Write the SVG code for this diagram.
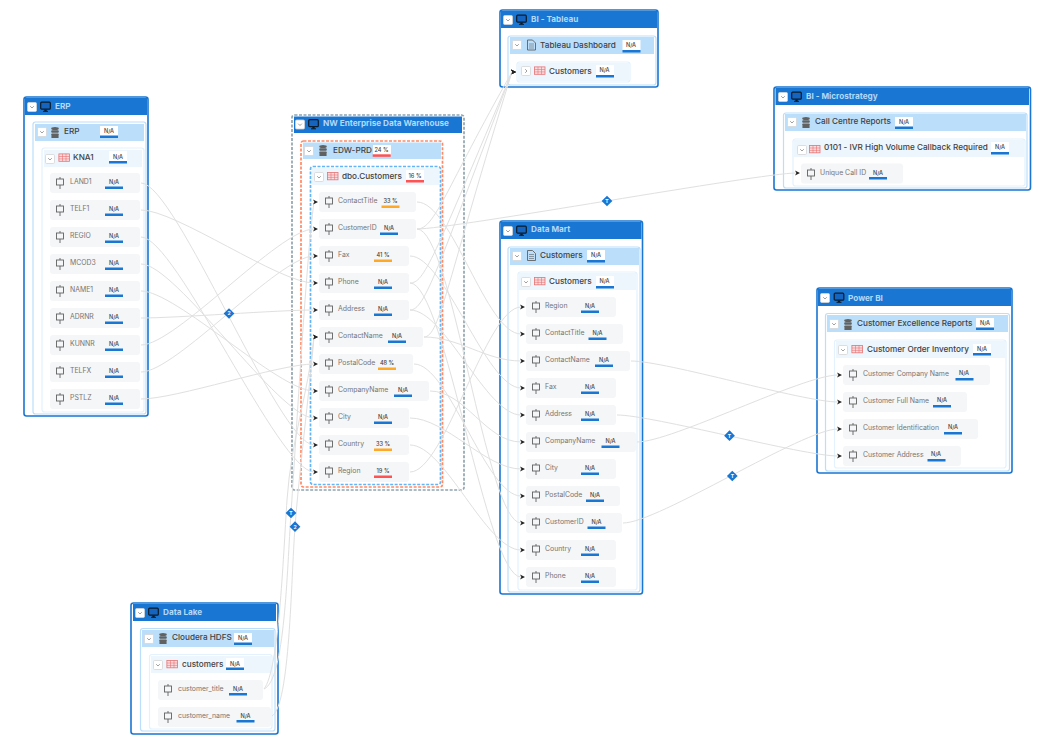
<svg xmlns="http://www.w3.org/2000/svg" width="1048" height="749" viewBox="0 0 1048 749">
<style>
text{font-family:"Inter","Open Sans","Liberation Sans",sans-serif}
.bg{fill:#fff}
.o{fill:#fff;stroke:#1976d2;stroke-width:1.6}
.o2{fill:#fff;stroke:#bbdefb;stroke-width:1.2}
.o3{fill:#fff;stroke:#e3f2fd;stroke-width:1.2}
.dg{fill:#fff;stroke:#90a4ae;stroke-width:1.7;stroke-dasharray:3 1.5}
.dr{fill:#fff;stroke:#ff8a65;stroke-width:1.7;stroke-dasharray:3 1.5}
.db{fill:#fff;stroke:#64b5f6;stroke-width:1.7;stroke-dasharray:3 1.5}
.h1{fill:#1976d2}.h2{fill:#bbdefb}.h3{fill:#edf5fd}
.r{fill:#f5f6f7}
.t1{font-size:8.2px;font-weight:700;fill:#b3d9f9}
.t2{font-size:8.2px;font-weight:500;fill:#424242}
.l{font-size:6.9px;fill:#757575}
.n{font-size:5.6px;font-weight:500;fill:#424242;text-anchor:middle}
.bl{fill:#1976d2}.br{fill:#ff5252}.bo{fill:#ffa726}
.w{fill:#fff}
.c path{fill:none;stroke:#e0e0e0;stroke-width:1;marker-end:url(#a)}
.d rect{fill:#1976d2}
.d text{font-size:5px;font-weight:700;fill:#fff;text-anchor:middle}
</style>
<defs>
<marker id="a" markerUnits="userSpaceOnUse" markerWidth="7" markerHeight="6" refX="1" refY="3" orient="0"><path d="M0 .4L5 3L0 5.6L1.4 3Z" fill="#212121"/></marker>
<g id="t"><rect x=".5" y=".5" width="9" height="9" rx="1.2" fill="#fff" stroke="#d5d5d5" stroke-width=".8"/><path d="M3.2 4.2L5 6L6.8 4.2" fill="none" stroke="#757575" stroke-width=".7"/></g>
<g id="tc"><rect x=".5" y=".5" width="9" height="9" rx="1.2" fill="#fff" stroke="#d5d5d5" stroke-width=".8"/><path d="M4.2 3.2L6 5L4.2 6.8" fill="none" stroke="#757575" stroke-width=".7"/></g>
<g id="m"><rect x=".7" y=".7" width="9.6" height="7" rx="1" fill="#1565c0" stroke="#0a1a2a" stroke-width="1.2"/><rect x="4.3" y="8" width="2.4" height="1.6" fill="#0a1a2a"/><rect x="3" y="9.3" width="5" height="1" fill="#0a1a2a"/></g>
<g id="s" fill="#616161"><ellipse cx="4" cy="1.6" rx="3.8" ry="1.5"/><rect x=".2" y="3.2" width="7.6" height="2.6" rx="1"/><rect x=".2" y="6.4" width="7.6" height="2.6" rx="1"/><rect x=".2" y="9" width="7.6" height="2" rx="1"/></g>
<g id="f" fill="none" stroke="#616161" stroke-width=".9"><path d="M.5.5H5.5L8.5 3.5V10.5H.5Z"/><path d="M2 4.5H7M2 6.5H7M2 8.5H7" stroke-width=".6"/></g>
<g id="g"><rect x=".4" y=".4" width="10.6" height="7.4" fill="#fbdde0" stroke="#e57373" stroke-width=".8"/><path d="M.4 3H11M.4 5.4H11M4 .4V7.8M7.5.4V7.8" stroke="#e57373" stroke-width=".6" fill="none"/></g>
<g id="c" fill="none" stroke="#616161" stroke-width=".9"><rect x="-3.5" y="-3" width="7" height="6"/><path d="M0-5V-3M0 3V7"/></g>
</defs>
<rect class="bg" width="1048" height="749"/>

<g id="erp">
<rect class="o" x="24" y="97" width="124" height="319" rx="2.5"/><rect class="h1" x="25" y="98" width="122" height="17"/>
<use href="#t" x="27" y="102"/><use href="#m" x="40" y="101.5"/><text class="t1" x="55" y="108.500">ERP</text>
<g id="erp-db"><rect class="o2" x="33" y="122" width="113" height="292" rx="2.5"/><rect class="h2" x="35" y="124" width="109" height="17"/>
<use href="#t" x="37" y="127"/><use href="#s" x="51" y="127"/><text class="t2" x="64" y="134">ERP</text><rect class="w" x="100" y="126" width="18" height="10"/><text class="n" x="109" y="133">N/A</text><rect class="bl" x="100" y="135.500" width="18" height="2.500"/></g>
<g id="erp-knai"><rect class="o3" x="42" y="148" width="102" height="264" rx="2.500"/><rect class="h3" x="44" y="150" width="98" height="17"/>
<use href="#t" x="45" y="154"/><use href="#g" x="58.500" y="153.500"/><text class="t2" x="73" y="160">KNA1</text><rect class="w" x="109" y="151" width="18" height="10"/><text class="n" x="118" y="158.500">N/A</text><rect class="bl" x="109" y="161" width="18" height="2.500"/></g>
<g id="erp-land1"><rect class="r" x="50" y="173" width="90" height="20" rx="3"/><use href="#c" x="60" y="182"/><text class="l" x="70" y="184">LAND1</text><text class="n" x="114" y="184">N/A</text><rect class="bl" x="105" y="186.500" width="18" height="2.500"/></g>
<g id="erp-telf1"><rect class="r" x="50" y="200" width="90" height="20" rx="3"/><use href="#c" x="60" y="209"/><text class="l" x="70" y="211">TELF1</text><text class="n" x="114" y="211">N/A</text><rect class="bl" x="105" y="213.500" width="18" height="2.500"/></g>
<g id="erp-regio"><rect class="r" x="50" y="227" width="90" height="20" rx="3"/><use href="#c" x="60" y="236"/><text class="l" x="70" y="238">REGIO</text><text class="n" x="114" y="238">N/A</text><rect class="bl" x="105" y="240.500" width="18" height="2.500"/></g>
<g id="erp-mcod3"><rect class="r" x="50" y="254" width="90" height="20" rx="3"/><use href="#c" x="60" y="263"/><text class="l" x="70" y="265">MCOD3</text><text class="n" x="114" y="265">N/A</text><rect class="bl" x="105" y="267.500" width="18" height="2.500"/></g>
<g id="erp-name1"><rect class="r" x="50" y="281" width="90" height="20" rx="3"/><use href="#c" x="60" y="290"/><text class="l" x="70" y="292">NAME1</text><text class="n" x="114" y="292">N/A</text><rect class="bl" x="105" y="294.500" width="18" height="2.500"/></g>
<g id="erp-adrnr"><rect class="r" x="50" y="308" width="90" height="20" rx="3"/><use href="#c" x="60" y="317"/><text class="l" x="70" y="319">ADRNR</text><text class="n" x="114" y="319">N/A</text><rect class="bl" x="105" y="321.500" width="18" height="2.500"/></g>
<g id="erp-kunnr"><rect class="r" x="50" y="335" width="90" height="20" rx="3"/><use href="#c" x="60" y="344"/><text class="l" x="70" y="346">KUNNR</text><text class="n" x="114" y="346">N/A</text><rect class="bl" x="105" y="348.500" width="18" height="2.500"/></g>
<g id="erp-telfx"><rect class="r" x="50" y="362" width="90" height="20" rx="3"/><use href="#c" x="60" y="371"/><text class="l" x="70" y="373">TELFX</text><text class="n" x="114" y="373">N/A</text><rect class="bl" x="105" y="375.500" width="18" height="2.500"/></g>
<g id="erp-pstlz"><rect class="r" x="50" y="389" width="90" height="20" rx="3"/><use href="#c" x="60" y="398"/><text class="l" x="70" y="400">PSTLZ</text><text class="n" x="114" y="400">N/A</text><rect class="bl" x="105" y="402.500" width="18" height="2.500"/></g>
</g>

<g id="dw">
<rect class="dg" x="292" y="115" width="172" height="375" rx="2.500"/><rect class="h1" x="294" y="116.500" width="168" height="16.500"/>
<use href="#t" x="295" y="119.500"/><use href="#m" x="308" y="119"/><text class="t1" x="323" y="126">NW Enterprise Data Warehouse</text>
<g id="dw-db"><rect class="dr" x="301" y="141" width="141.500" height="346" rx="2.500"/><rect class="h2" x="303" y="142.500" width="138" height="16.500"/>
<use href="#t" x="304" y="146"/><use href="#s" x="319" y="145"/><text class="t2" x="333" y="153">EDW-PRD</text><rect class="w" x="373" y="145" width="18" height="10"/><text class="n" x="381.500" y="151.500">24 %</text><rect class="br" x="372.700" y="154.300" width="18" height="2.500"/></g>
<g id="dw-tbl"><rect class="db" x="310.500" y="166.500" width="130" height="318" rx="2.500"/><rect class="h3" x="312" y="168" width="127" height="17"/>
<use href="#t" x="314" y="172"/><use href="#g" x="327" y="172"/><text class="t2" x="342" y="179">dbo.Customers</text><rect class="w" x="406" y="170" width="18" height="10"/><text class="n" x="415" y="177.500">16 %</text><rect class="br" x="406" y="180" width="18" height="2.500"/></g>
<g id="dw-ct"><rect class="r" x="319" y="192" width="97" height="20" rx="3"/><use href="#c" x="329" y="201"/><text class="l" x="338" y="203">ContactTitle</text><text class="n" x="390.500" y="203">33 %</text><rect class="bo" x="381.500" y="205.500" width="18" height="2.500"/></g>
<g id="dw-cid"><rect class="r" x="319" y="219" width="97" height="20" rx="3"/><use href="#c" x="329" y="228"/><text class="l" x="338" y="230">CustomerID</text><text class="n" x="389" y="230">N/A</text><rect class="bl" x="380" y="232.500" width="18" height="2.500"/></g>
<g id="dw-fax"><rect class="r" x="319" y="246" width="90" height="20" rx="3"/><use href="#c" x="329" y="255"/><text class="l" x="338" y="257">Fax</text><text class="n" x="383" y="257">41 %</text><rect class="bo" x="374" y="259.500" width="18" height="2.500"/></g>
<g id="dw-ph"><rect class="r" x="319" y="273" width="90" height="20" rx="3"/><use href="#c" x="329" y="282"/><text class="l" x="338" y="284">Phone</text><text class="n" x="383" y="284">N/A</text><rect class="bl" x="374" y="286.500" width="18" height="2.500"/></g>
<g id="dw-ad"><rect class="r" x="319" y="300" width="90" height="20" rx="3"/><use href="#c" x="329" y="309"/><text class="l" x="338" y="311">Address</text><text class="n" x="383" y="311">N/A</text><rect class="bl" x="374" y="313.500" width="18" height="2.500"/></g>
<g id="dw-cn"><rect class="r" x="319" y="327" width="104" height="20" rx="3"/><use href="#c" x="329" y="336"/><text class="l" x="338" y="338">ContactName</text><text class="n" x="397" y="338">N/A</text><rect class="bl" x="388" y="340.500" width="18" height="2.500"/></g>
<g id="dw-pc"><rect class="r" x="319" y="354" width="94" height="20" rx="3"/><use href="#c" x="329" y="363"/><text class="l" x="338" y="365">PostalCode</text><text class="n" x="387" y="365">48 %</text><rect class="bo" x="378" y="367.500" width="18" height="2.500"/></g>
<g id="dw-co"><rect class="r" x="319" y="381" width="110" height="20" rx="3"/><use href="#c" x="329" y="390"/><text class="l" x="338" y="392">CompanyName</text><text class="n" x="403" y="392">N/A</text><rect class="bl" x="394" y="394.500" width="18" height="2.500"/></g>
<g id="dw-ci"><rect class="r" x="319" y="408" width="90" height="20" rx="3"/><use href="#c" x="329" y="417"/><text class="l" x="338" y="419">City</text><text class="n" x="383" y="419">N/A</text><rect class="bl" x="374" y="421.500" width="18" height="2.500"/></g>
<g id="dw-cy"><rect class="r" x="319" y="435" width="90" height="20" rx="3"/><use href="#c" x="329" y="444"/><text class="l" x="338" y="446">Country</text><text class="n" x="383" y="446">33 %</text><rect class="bo" x="374" y="448.500" width="18" height="2.500"/></g>
<g id="dw-re"><rect class="r" x="319" y="462" width="90" height="20" rx="3"/><use href="#c" x="329" y="471"/><text class="l" x="338" y="473">Region</text><text class="n" x="383" y="473">19 %</text><rect class="br" x="374" y="475.500" width="18" height="2.500"/></g>
</g>

<g id="tableau">
<rect class="o" x="500" y="10" width="158" height="77" rx="2.500"/><rect class="h1" x="501" y="11" width="156" height="17"/>
<use href="#t" x="503" y="15"/><use href="#m" x="516" y="14.500"/><text class="t1" x="531" y="22">BI - Tableau</text>
<g id="tb-dash"><rect class="o2" x="508" y="36" width="148" height="49" rx="2.500"/><rect class="h2" x="510" y="37" width="144" height="17"/>
<use href="#t" x="512" y="40"/><use href="#f" x="527" y="39.500"/><text class="t2" x="540" y="48">Tableau Dashboard</text><rect class="w" x="622.500" y="40" width="18" height="10"/><text class="n" x="631" y="47">N/A</text><rect class="bl" x="622.500" y="50" width="18" height="2.500"/></g>
<g id="tb-cust"><rect class="o3" x="517" y="62" width="113" height="20" rx="2.500"/><rect class="h3" x="518" y="63" width="111" height="18"/>
<use href="#tc" x="521" y="66"/><use href="#g" x="534" y="66.500"/><text class="t2" x="549" y="74">Customers</text><rect class="w" x="596" y="65" width="18" height="10"/><text class="n" x="604.500" y="72">N/A</text><rect class="bl" x="596" y="75" width="18" height="2.500"/></g>
</g>

<g id="micro">
<rect class="o" x="774" y="87" width="256.500" height="103" rx="2.500"/><rect class="h1" x="775.500" y="88" width="253.500" height="17"/>
<use href="#t" x="778" y="92"/><use href="#m" x="791" y="91.500"/><text class="t1" x="806" y="99">BI - Microstrategy</text>
<g id="ms-db"><rect class="o2" x="783.500" y="113" width="243.500" height="75" rx="2.500"/><rect class="h2" x="785" y="114" width="241" height="17"/>
<use href="#t" x="787" y="117"/><use href="#s" x="802" y="117"/><text class="t2" x="815" y="124">Call Centre Reports</text><rect class="w" x="895" y="117" width="18" height="10"/><text class="n" x="904" y="123.500">N/A</text><rect class="bl" x="895" y="126.500" width="18" height="2.500"/></g>
<g id="ms-tbl"><rect class="o3" x="793" y="139" width="232" height="47" rx="2.500"/><rect class="h3" x="794" y="140" width="230" height="17"/>
<use href="#t" x="797" y="145"/><use href="#g" x="809" y="145"/><text class="t2" x="824" y="150">0101 - IVR High Volume Callback Required</text><rect class="w" x="991" y="142" width="18" height="10"/><text class="n" x="1000" y="149">N/A</text><rect class="bl" x="991" y="152" width="18" height="2.500"/></g>
<g id="ms-uid"><rect class="r" x="801" y="163.500" width="102" height="20" rx="3"/><use href="#c" x="811" y="173"/><text class="l" x="820" y="174.500">Unique Call ID</text><text class="n" x="878" y="174.500">N/A</text><rect class="bl" x="869" y="177" width="18" height="2.500"/></g>
</g>

<g id="mart">
<rect class="o" x="500" y="221" width="142.500" height="373" rx="2.500"/><rect class="h1" x="501" y="222" width="140.500" height="17"/>
<use href="#t" x="503" y="226"/><use href="#m" x="516" y="225.500"/><text class="t1" x="531" y="232">Data Mart</text>
<g id="dm-doc"><rect class="o2" x="508" y="247" width="132" height="345" rx="2.500"/><rect class="h2" x="510" y="248" width="129" height="17"/>
<use href="#t" x="512" y="251"/><use href="#f" x="527" y="250"/><text class="t2" x="540" y="258">Customers</text><rect class="w" x="587" y="250" width="18" height="10"/><text class="n" x="596" y="257">N/A</text><rect class="bl" x="587" y="260" width="18" height="2.500"/></g>
<g id="dm-tbl"><rect class="o3" x="518" y="272" width="119" height="318" rx="2.500"/><rect class="h3" x="519" y="273" width="117" height="17"/>
<use href="#t" x="521" y="277"/><use href="#g" x="534" y="277"/><text class="t2" x="549" y="284">Customers</text><rect class="w" x="596" y="276" width="18" height="10"/><text class="n" x="604.500" y="283">N/A</text><rect class="bl" x="596" y="286" width="18" height="2.500"/></g>
<g id="dm-re"><rect class="r" x="526" y="297" width="90" height="20" rx="3"/><use href="#c" x="536" y="306"/><text class="l" x="545" y="308">Region</text><text class="n" x="590" y="308">N/A</text><rect class="bl" x="581" y="310.500" width="18" height="2.500"/></g>
<g id="dm-ct"><rect class="r" x="526" y="324" width="97" height="20" rx="3"/><use href="#c" x="536" y="333"/><text class="l" x="545" y="335">ContactTitle</text><text class="n" x="597.500" y="335">N/A</text><rect class="bl" x="588.500" y="337.500" width="18" height="2.500"/></g>
<g id="dm-cn"><rect class="r" x="526" y="351" width="104" height="20" rx="3"/><use href="#c" x="536" y="360"/><text class="l" x="545" y="362">ContactName</text><text class="n" x="604" y="362">N/A</text><rect class="bl" x="595" y="364.500" width="18" height="2.500"/></g>
<g id="dm-fax"><rect class="r" x="526" y="378" width="90" height="20" rx="3"/><use href="#c" x="536" y="387"/><text class="l" x="545" y="389">Fax</text><text class="n" x="590" y="389">N/A</text><rect class="bl" x="581" y="391.500" width="18" height="2.500"/></g>
<g id="dm-ad"><rect class="r" x="526" y="405" width="90" height="20" rx="3"/><use href="#c" x="536" y="414"/><text class="l" x="545" y="416">Address</text><text class="n" x="590" y="416">N/A</text><rect class="bl" x="581" y="418.500" width="18" height="2.500"/></g>
<g id="dm-co"><rect class="r" x="526" y="432" width="110" height="20" rx="3"/><use href="#c" x="536" y="441"/><text class="l" x="545" y="443">CompanyName</text><text class="n" x="610.500" y="443">N/A</text><rect class="bl" x="601.500" y="445.500" width="18" height="2.500"/></g>
<g id="dm-ci"><rect class="r" x="526" y="459" width="90" height="20" rx="3"/><use href="#c" x="536" y="468"/><text class="l" x="545" y="470">City</text><text class="n" x="590" y="470">N/A</text><rect class="bl" x="581" y="472.500" width="18" height="2.500"/></g>
<g id="dm-pc"><rect class="r" x="526" y="486" width="94" height="20" rx="3"/><use href="#c" x="536" y="495"/><text class="l" x="545" y="497">PostalCode</text><text class="n" x="595" y="497">N/A</text><rect class="bl" x="586" y="499.500" width="18" height="2.500"/></g>
<g id="dm-cid"><rect class="r" x="526" y="513" width="96" height="20" rx="3"/><use href="#c" x="536" y="522"/><text class="l" x="545" y="524">CustomerID</text><text class="n" x="596.500" y="524">N/A</text><rect class="bl" x="587.500" y="526.500" width="18" height="2.500"/></g>
<g id="dm-cy"><rect class="r" x="526" y="540" width="90" height="20" rx="3"/><use href="#c" x="536" y="549"/><text class="l" x="545" y="551">Country</text><text class="n" x="590" y="551">N/A</text><rect class="bl" x="581" y="553.500" width="18" height="2.500"/></g>
<g id="dm-ph"><rect class="r" x="526" y="567" width="90" height="20" rx="3"/><use href="#c" x="536" y="576"/><text class="l" x="545" y="578">Phone</text><text class="n" x="590" y="578">N/A</text><rect class="bl" x="581" y="580.500" width="18" height="2.500"/></g>
</g>

<g id="power">
<rect class="o" x="817" y="288" width="195" height="185" rx="2.500"/><rect class="h1" x="818" y="289" width="193" height="17"/>
<use href="#t" x="820" y="293"/><use href="#m" x="833.500" y="292.500"/><text class="t1" x="848" y="300.500">Power BI</text>
<g id="pb-db"><rect class="o2" x="825.500" y="313.500" width="184" height="157.500" rx="2.500"/><rect class="h2" x="827" y="315" width="181" height="17"/>
<use href="#t" x="829" y="319"/><use href="#s" x="844" y="319"/><text class="t2" x="857" y="326">Customer Excellence Reports</text><rect class="w" x="976" y="318" width="18" height="10"/><text class="n" x="985" y="324.500">N/A</text><rect class="bl" x="976" y="327.500" width="18" height="2.500"/></g>
<g id="pb-tbl"><rect class="o3" x="834.500" y="340" width="171.500" height="128" rx="2.500"/><rect class="h3" x="836" y="341" width="169" height="17"/>
<use href="#t" x="838" y="345"/><use href="#g" x="851.500" y="345"/><text class="t2" x="867" y="352">Customer Order Inventory</text><rect class="w" x="973" y="344" width="18" height="10"/><text class="n" x="982" y="351">N/A</text><rect class="bl" x="973" y="353" width="18" height="2.500"/></g>
<g id="pb-co"><rect class="r" x="843" y="365" width="147" height="20" rx="3"/><use href="#c" x="853" y="374"/><text class="l" x="863" y="376">Customer Company Name</text><text class="n" x="964" y="375">N/A</text><rect class="bl" x="955.500" y="378" width="18" height="2.500"/></g>
<g id="pb-fn"><rect class="r" x="843" y="392" width="124" height="20" rx="3"/><use href="#c" x="853" y="401"/><text class="l" x="863" y="403">Customer Full Name</text><text class="n" x="942" y="402">N/A</text><rect class="bl" x="933" y="405" width="18" height="2.500"/></g>
<g id="pb-id"><rect class="r" x="843" y="419" width="135" height="20" rx="3"/><use href="#c" x="853" y="428"/><text class="l" x="863" y="430">Customer Identification</text><text class="n" x="953" y="429">N/A</text><rect class="bl" x="944" y="432" width="18" height="2.500"/></g>
<g id="pb-ad"><rect class="r" x="843" y="446" width="118" height="20" rx="3"/><use href="#c" x="853" y="455"/><text class="l" x="863" y="457">Customer Address</text><text class="n" x="936" y="456">N/A</text><rect class="bl" x="927.500" y="459" width="18" height="2.500"/></g>
</g>

<g id="lake">
<rect class="o" x="131" y="603" width="147" height="131" rx="2.500"/><rect class="h1" x="133" y="604" width="143" height="17"/>
<use href="#t" x="135" y="608"/><use href="#m" x="148" y="607.500"/><text class="t1" x="163" y="615">Data Lake</text>
<g id="dl-db"><rect class="o2" x="140.500" y="628.500" width="134.500" height="102.500" rx="2.500"/><rect class="h2" x="142" y="630" width="132" height="17"/>
<use href="#t" x="144" y="634"/><use href="#s" x="159" y="633"/><text class="t2" x="172" y="640">Cloudera HDFS</text><rect class="w" x="234" y="633" width="18" height="10"/><text class="n" x="243" y="639.500">N/A</text><rect class="bl" x="234" y="642.500" width="18" height="2.500"/></g>
<g id="dl-tbl"><rect class="o3" x="149.500" y="654.500" width="122.500" height="74.500" rx="2.500"/><rect class="h3" x="151" y="656" width="120" height="17"/>
<use href="#t" x="153" y="660"/><use href="#g" x="166.500" y="660"/><text class="t2" x="182" y="666.500">customers</text><rect class="w" x="226" y="658" width="18" height="10"/><text class="n" x="235" y="665.500">N/A</text><rect class="bl" x="226" y="667.500" width="18" height="2.500"/></g>
<g id="dl-ti"><rect class="r" x="158" y="680" width="105" height="20" rx="3"/><use href="#c" x="168" y="689"/><text class="l" x="178" y="690.500">customer_title</text><text class="n" x="238" y="690.500">N/A</text><rect class="bl" x="229" y="693" width="18" height="2.500"/></g>
<g id="dl-na"><rect class="r" x="158" y="707" width="113" height="20" rx="3"/><use href="#c" x="168" y="716"/><text class="l" x="178" y="717.500">customer_name</text><text class="n" x="245.500" y="717.500">N/A</text><rect class="bl" x="236.500" y="720" width="18" height="2.500"/></g>
</g>

<g id="connectors" class="c">
<path d="M141 183C176 183 279 445 314 445"/>
<path d="M141 210C176 210 279 283 314 283"/>
<path d="M141 237C176 237 279 472 314 472"/>
<path d="M141 264C176 264 279 418 314 418"/>
<path d="M141 291C176 291 279 391 314 391"/>
<path d="M141 318C176 318 279 310 314 310"/>
<path d="M141 345C176 345 279 229 314 229"/>
<path d="M141 372C176 372 279 256 314 256"/>
<path d="M141 399C176 399 279 364 314 364"/>
<path d="M264 689C285 680 287 570 291 513S306 260 314 202"/>
<path d="M272 716C290 705 291 580 295 527S309 395 314 337"/>
<path d="M264 689C279 670 283 560 287 500S308 395 314 337"/>
<path d="M417 202C452 202 486 334 521 334"/>
<path d="M417 229C452 229 486 523 521 523"/>
<path d="M410 256C445 256 486 388 521 388"/>
<path d="M410 283C445 283 486 577 521 577"/>
<path d="M410 310C445 310 486 415 521 415"/>
<path d="M424 337C459 337 486 361 521 361"/>
<path d="M414 364C449 364 486 496 521 496"/>
<path d="M430 391C465 391 486 442 521 442"/>
<path d="M410 418C445 418 486 469 521 469"/>
<path d="M410 445C445 445 486 550 521 550"/>
<path d="M410 472C445 472 486 307 521 307"/>
<path d="M417 229C435 229 445 190 512 72"/>
<path d="M410 283C424 283 432 262 512 72"/>
<path d="M410 310C425 310 437 270 512 72"/>
<path d="M424 337C440 337 447 280 512 72"/>
<path d="M417 229C452 229 761 173 796 173"/>
<path d="M631 361C666 361 803 402 838 402"/>
<path d="M617 415C652 415 803 456 838 456"/>
<path d="M637 442C672 442 803 375 838 375"/>
<path d="M623 523C658 523 803 429 838 429"/>
</g>

<g id="d1" class="d"><rect x="-3.800" y="-3.800" width="7.600" height="7.600" transform="translate(229 313.500) rotate(45)"/><text x="229" y="315.300">2</text></g>
<g id="d2" class="d"><rect x="-3.800" y="-3.800" width="7.600" height="7.600" transform="translate(291 513) rotate(45)"/><text x="291" y="514.800">T</text></g>
<g id="d3" class="d"><rect x="-3.800" y="-3.800" width="7.600" height="7.600" transform="translate(295 526.700) rotate(45)"/><text x="295" y="528.500">2</text></g>
<g id="d4" class="d"><rect x="-3.800" y="-3.800" width="7.600" height="7.600" transform="translate(607 201) rotate(45)"/><text x="607" y="202.800">T</text></g>
<g id="d5" class="d"><rect x="-3.800" y="-3.800" width="7.600" height="7.600" transform="translate(729.500 435.700) rotate(45)"/><text x="729.500" y="437.500">T</text></g>
<g id="d6" class="d"><rect x="-3.800" y="-3.800" width="7.600" height="7.600" transform="translate(732.300 476) rotate(45)"/><text x="732.300" y="477.800">T</text></g>
</svg>
